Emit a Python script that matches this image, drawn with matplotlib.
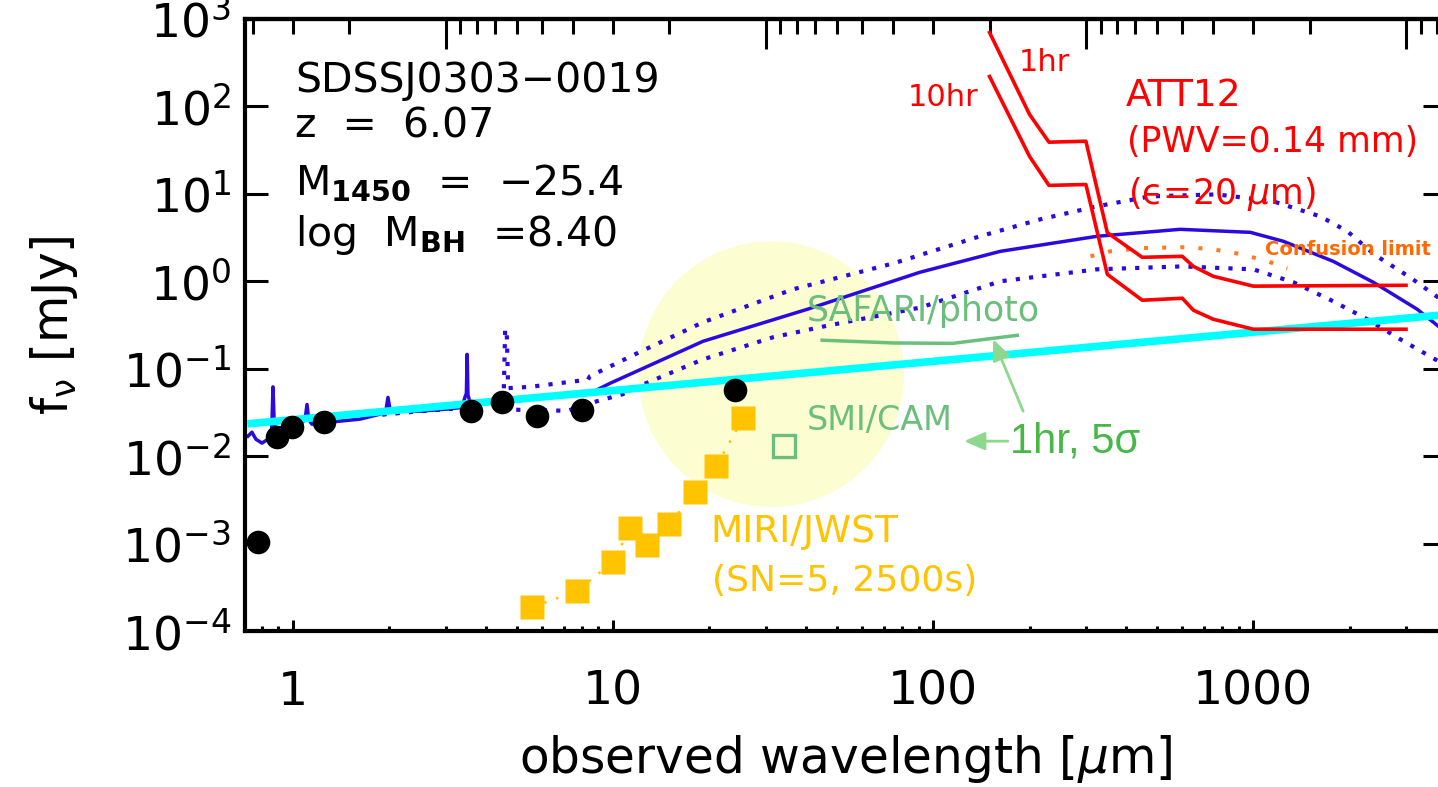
import numpy as np
import matplotlib
matplotlib.use("Agg")
import matplotlib.pyplot as plt
from matplotlib.ticker import LogLocator, NullLocator, NullFormatter, FuncFormatter

plt.rcParams['font.family'] = ['DejaVu Sans']
plt.rcParams['mathtext.default'] = 'regular'

# photometry of SDSSJ0303-0019 (observed wavelength um, flux mJy)
phot_wave = [0.78, 0.89, 0.99, 1.25, 3.6, 4.5, 5.8, 8.0, 24.0]
phot_flux = [1.04e-3, 0.0165, 0.0214, 0.0245, 0.0327, 0.0414, 0.0286, 0.0336, 0.0568]

# MIRI/JWST sensitivity (SN=5, 2500s)
miri_wave = [5.6, 7.7, 10.0, 11.3, 12.8, 15.0, 18.0, 21.0, 25.5]
miri_flux = [1.88e-4, 2.86e-4, 6.15e-4, 1.50e-3, 9.6e-4, 1.67e-3, 3.88e-3, 7.7e-3, 0.0272]

# quasar spectrum + torus model
sed_wave = [0.723, 0.744, 0.766, 0.80, 0.835, 0.858, 0.866, 0.874, 0.885, 0.924, 0.979,
            1.05, 1.09, 1.106, 1.12, 1.146, 1.305, 1.62, 1.87, 1.95, 1.98, 2.01, 2.07,
            2.49, 2.99, 3.37, 3.45, 3.48, 3.50, 3.52, 3.60, 3.84, 5.5, 8.6, 9.8, 19.1,
            40.4, 91, 162, 325, 591, 979, 1241, 1778, 2371, 3254, 3786, 4000]
sed_flux = [0.0169, 0.0188, 0.0156, 0.0141, 0.0156, 0.020, 0.062, 0.022, 0.0214, 0.0193, 0.0214,
            0.0232, 0.026, 0.039, 0.026, 0.0232, 0.0245, 0.0265, 0.0302, 0.033, 0.047, 0.034, 0.033,
            0.0327, 0.0344, 0.036, 0.048, 0.052, 0.146, 0.05, 0.038, 0.0405, 0.047, 0.0538, 0.0683, 0.206,
            0.478, 1.27, 2.2, 3.27, 3.93, 3.63, 2.87, 1.69, 0.975, 0.478, 0.306, 0.27]

sed_up_wave = [1.9, 2.5, 3.0, 3.6, 4.2, 4.55, 4.60, 4.65, 4.70, 5.5, 8.35, 8.46, 12.1, 19.1,
               36.5, 75, 140, 216, 325, 476, 772, 1155, 1618, 1967, 2400, 3100, 3786, 4000]
sed_up_flux = [0.030, 0.0327, 0.0344, 0.037, 0.042, 0.045, 0.283, 0.283, 0.060, 0.062, 0.075,
               0.082, 0.155, 0.34, 0.81, 1.6, 3.27, 5.11, 7.2, 9.36, 9.86, 8.2, 5.53, 3.73,
               2.0, 1.1, 0.65, 0.55]

sed_lo_wave = [1.9, 2.5, 3.0, 3.6, 4.2, 4.55, 4.60, 4.87, 7.2, 8.6, 10.7, 12.4, 19.1, 31.6,
               46.6, 91, 162, 325, 600, 1000, 1334, 1778, 2270, 2880, 3786, 4000]
sed_lo_flux = [0.030, 0.0327, 0.0344, 0.037, 0.042, 0.045, 0.05, 0.034, 0.033, 0.041, 0.051,
               0.066, 0.128, 0.229, 0.31, 0.50, 1.0, 1.37, 1.48, 1.37, 0.975, 0.59, 0.368,
               0.217, 0.122, 0.105]

# accretion disk power law
disk_wave = [0.72, 4000]
disk_flux = [0.0234, 0.416]

# ATT12 sensitivity (PWV=0.14 mm)
att_wave = [150, 200, 230, 300, 350, 450, 600, 650, 750, 1000, 3000]
att_1hr = [700, 81, 39, 40, 3.6, 1.88, 1.93, 1.48, 1.14, 0.88, 0.90]
att_10hr = [220, 26.8, 12.5, 12.8, 1.20, 0.607, 0.64, 0.467, 0.368, 0.283, 0.283]

conf_wave = [310, 357, 453, 600, 734, 910, 1106, 1277]
conf_flux = [1.93, 2.2, 2.4, 2.45, 2.35, 2.05, 1.7, 1.4]

# SPICA
safari_wave = [45, 75, 115, 183]
safari_flux = [0.212, 0.197, 0.195, 0.241]
smi_wave = [34.1]
smi_flux = [0.0130]

halo_wave = [31.2]
halo_flux = [0.0865]

blue = '#2a0ae0'
yellow = '#ffc300'
green = '#6abf7c'

fig = plt.figure(figsize=(14.38, 7.87), dpi=100)
ax = fig.add_axes([245 / 1438, 156 / 787, 1201 / 1438, 612 / 787])
ax.set_xscale('log')
ax.set_yscale('log')
ax.set_xlim(0.708, 4000)
ax.set_ylim(1e-4, 1e3)

ax.scatter(halo_wave, halo_flux, s=36600, color='#fdfdd2', edgecolors='none', zorder=0.5)

dots = dict(color=blue, lw=3.0, linestyle=(0, (1, 2.2)), dash_capstyle='butt', zorder=1)
ax.plot(sed_up_wave, sed_up_flux, **dots)
ax.plot(sed_lo_wave, sed_lo_flux, **dots)
ax.plot(sed_wave, sed_flux, color=blue, lw=2.5, zorder=2)
ax.plot(disk_wave, disk_flux, color='#00ffff', lw=5.5, solid_capstyle='butt', zorder=3)

ax.plot(conf_wave, conf_flux, color='#ff7a20', lw=2.9, linestyle=(0, (1, 3.5)),
        dash_capstyle='butt', zorder=3.5)
ax.plot(att_wave, att_1hr, color='red', lw=2.6, zorder=4)
ax.plot(att_wave, att_10hr, color='red', lw=2.6, zorder=4)

ax.plot(safari_wave, safari_flux, color=green, lw=2.5, zorder=4)
ax.plot(smi_wave, smi_flux, 's', ms=16.5, mfc='none', mec=green, mew=2.4, zorder=4)

ax.plot(miri_wave, miri_flux, color=yellow, lw=1.8, linestyle=(0, (1, 4)), zorder=4.5)
ax.plot(miri_wave, miri_flux, 's', ms=17.5, color=yellow, mec='none', zorder=5)
ax.plot(phot_wave, phot_flux, 'o', ms=17, color='black', mec='none', zorder=5)

arrow = dict(arrowstyle='-|>,head_length=0.5,head_width=0.22', color='#8dd88d', lw=2,
             mutation_scale=25, shrinkA=0, shrinkB=0)
ax.annotate('', xy=(154, 0.217), xytext=(191, 0.0327), arrowprops=arrow, zorder=4)
ax.annotate('', xy=(125, 0.01484), xytext=(171, 0.01484), arrowprops=arrow, zorder=4)

# texts
ax.text(1.014, 144.5, 'SDSSJ0303\u22120019', fontsize=29.5, zorder=6)
ax.text(1.014, 44.3, 'z  =  6.07', fontsize=29.5, zorder=6)
ax.text(1.014, 9.86, 'M$_{\\mathbf{1450}}$  =  \u221225.4', fontsize=29.5, zorder=6)
ax.text(1.014, 2.51, 'log  M$_{\\mathbf{BH}}$  =8.40', fontsize=29.5, zorder=6)

ax.text(184.5, 251, '1hr', fontsize=22, color='red', zorder=6)
ax.text(83, 100, '10hr', fontsize=22, color='red', zorder=6)
ax.text(398, 100, 'ATT12', fontsize=27, color='red', zorder=6)
ax.text(404, 29.8, '(PWV=0.14 mm)', fontsize=25, color='red', zorder=6)
ax.text(406, 7.59, '(\u03f5=20 $\\mathit{\\mu}$m)', fontsize=25, color='red', zorder=6)
ax.text(1090, 1.98, 'Confusion limit', fontsize=14, fontweight='bold', color='#ff6a00', zorder=6)

ax.text(40.4, 0.349, 'SAFARI/photo', fontsize=25, color=green, zorder=6)
ax.text(40.4, 0.0201, 'SMI/CAM', fontsize=24, color=green, zorder=6)
ax.text(174, 0.0111, '1hr, 5\u03c3', fontsize=30, color='#47b847',
        family=['Liberation Sans', 'DejaVu Sans'], zorder=6)

ax.text(20.1, 1.04e-3, 'MIRI/JWST', fontsize=27, color=yellow, zorder=6)
ax.text(20.4, 2.86e-4, '(SN=5, 2500s)', fontsize=26, color=yellow, zorder=6)

# axes styling
for s in ax.spines.values():
    s.set_linewidth(3)
ax.xaxis.set_major_locator(LogLocator(base=10, numticks=20))
ax.xaxis.set_minor_locator(LogLocator(base=10, subs=np.arange(2, 10), numticks=20))
ax.xaxis.set_major_formatter(FuncFormatter(lambda v, p: f'{v:g}'))
ax.xaxis.set_minor_formatter(NullFormatter())
ax.yaxis.set_major_locator(LogLocator(base=10, numticks=20))
ax.yaxis.set_minor_locator(NullLocator())
ax.tick_params(axis='x', which='major', direction='in', length=8, width=2.2, labelsize=34,
               pad=28, top=False)
ax.tick_params(axis='x', which='minor', direction='in', length=3.8, width=2.2, top=False)
ax.tick_params(axis='y', which='major', direction='in', length=16.5, width=2.2, labelsize=34,
               pad=10, right=True)

secax = ax.secondary_xaxis('top', functions=(lambda x: 3e5 / np.maximum(x, 1e-30),
                                             lambda x: 3e5 / np.maximum(x, 1e-30)))
secax.tick_params(which='major', direction='in', length=21.6, width=2.2)
secax.tick_params(which='minor', direction='in', length=10.8, width=2.2)
secax.xaxis.set_major_formatter(NullFormatter())
secax.xaxis.set_minor_formatter(NullFormatter())
secax.spines['top'].set_linewidth(3)

ax.set_xlabel(r'observed wavelength [$\mathit{\mu}$m]', fontsize=35)
ax.set_ylabel(r'f$_{\nu}$ [mJy]', fontsize=35)
ax.xaxis.set_label_coords(0.5, -0.166)
ax.yaxis.set_label_coords(-0.137, 0.5)

fig.savefig('out.png', dpi=100)
